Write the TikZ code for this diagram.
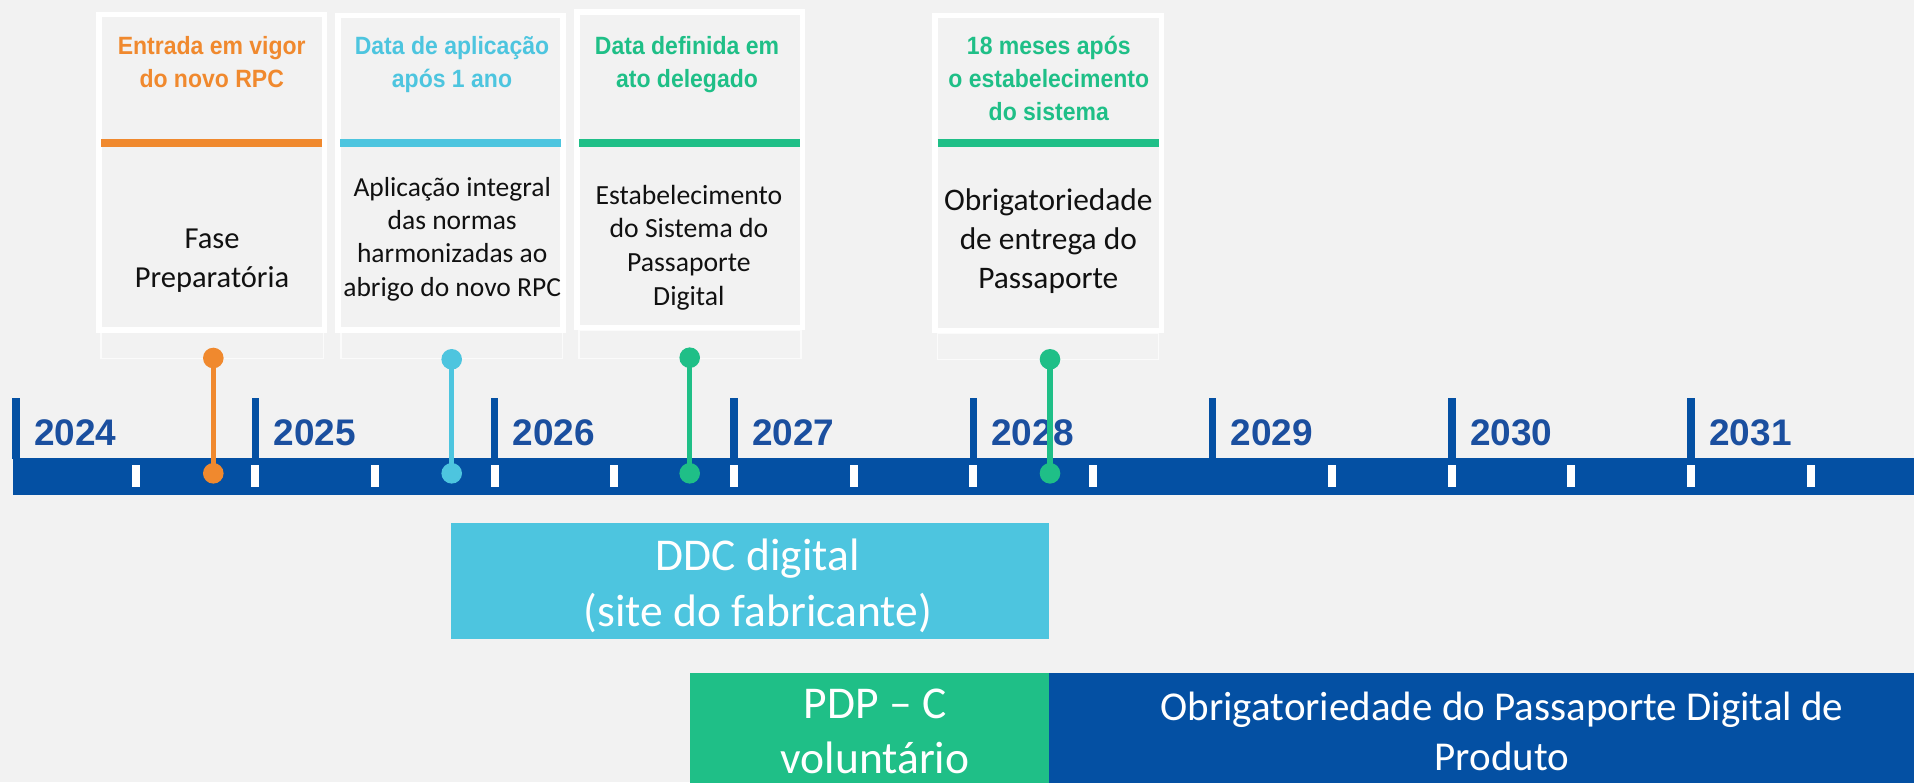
\documentclass[tikz,border=0pt]{standalone}
\usepackage{fontspec}
\newfontfamily\hdrfont[FakeStretch=0.92]{Liberation Sans}
\newfontfamily\yrfont{Liberation Sans}
\newfontfamily\bodyfont{Carlito}
\definecolor{bgc}{HTML}{F2F2F2}
\definecolor{orangec}{HTML}{F0892E}
\definecolor{cyanc}{HTML}{4DC5DF}
\definecolor{greenc}{HTML}{1FBF87}
\definecolor{bluec}{HTML}{0450A3}
\definecolor{yearc}{HTML}{1B4F9F}
\definecolor{textc}{HTML}{111111}
\begin{document}
\begin{tikzpicture}[x=1pt,y=-1pt,
  card/.style={draw=white, line width=5.5pt, fill=bgc, inner sep=0pt, rectangle},
  faint/.style={draw=white, line width=1.5pt, opacity=0.75},
  divider/.style={line width=8pt},
  hdr/.style={inner sep=0pt, anchor=north, align=center, font=\hdrfont\bfseries\fontsize{25}{33.35}\selectfont},
  bodytxt/.style={inner sep=0pt, anchor=north, align=center, text=textc},
  yearlbl/.style={inner sep=0pt, anchor=base west, text=yearc, font=\yrfont\bfseries\fontsize{37}{44}\selectfont},
  dotn/.style={circle, inner sep=0pt, minimum size=20.6pt, draw=none},
  stem/.style={line width=5.5pt},
  bartxt/.style={inner sep=0pt, anchor=north, align=center, text=white}
]
% background
\fill[bgc] (0,0) rectangle (1914,782);
\useasboundingbox (0,0) rectangle (1914,782);

% axis bar
\fill[bluec] (12.5,458.3) rectangle (1914,495);
\foreach \i in {0,...,7}
  \fill[bluec] ({16+239.3*\i-3.7},398.3) rectangle ({16+239.3*\i+3.7},459);
\foreach \h in {0.5,1,1.5,2,2.5,3,3.5,4,4.5,5.5,6,6.5,7,7.5}
  \fill[white] ({16+239.3*\h-4},465) rectangle ({16+239.3*\h+4},486.7);
\foreach \i/\yy in {0/2024,1/2025,2/2026,3/2027,4/2028,5/2029,6/2030,7/2031}
  \node[yearlbl] (yr\yy) at ({16+239.3*\i+18},445) {\yy};

% cards
\node[card, minimum width=225.8pt, minimum height=315.5pt] (c1) at (211.65,172.2) {};
\node[card, minimum width=225.2pt, minimum height=314.5pt] (c2) at (450.35,172.7) {};
\node[card, minimum width=225.5pt, minimum height=315.2pt] (c3) at (689.5,169.65) {};
\node[card, minimum width=226.2pt, minimum height=315.1pt] (c4) at (1048.15,173) {};

% faint boxes under cards
\draw[faint] (101,332.7) rectangle (323.3,358.3);
\draw[faint] (341,332.7) rectangle (562.7,358.3);
\draw[faint] (579,330) rectangle (801,358.3);
\draw[faint] (937.7,333.3) rectangle (1158.3,359.3);

% dividers
\draw[divider, orangec] (101,143.3) -- (322.3,143.3);
\draw[divider, cyanc] (340,143.3) -- (561,143.3);
\draw[divider, greenc] (579,143.3) -- (800,143.3);
\draw[divider, greenc] (937.7,143.3) -- (1159,143.3);

% headers
\node[hdr, text=orangec] (h1) at (211.7,30.7) {\strut Entrada em vigor\\\strut do novo RPC};
\node[hdr, text=cyanc] (h2) at (452,30.7) {\strut Data de aplicação\\\strut após 1 ano};
\node[hdr, text=greenc] (h3) at (687,30.7) {\strut Data definida em\\\strut ato delegado};
\node[hdr, text=greenc] (h4) at (1048.8,30.7) {\strut 18 meses após\\\strut o estabelecimento\\\strut do sistema};

% body texts
\node[bodytxt, font=\bodyfont\fontsize{30.5}{39}\selectfont] (b1) at (212,221) {\strut Fase\\\strut Preparatória};
\node[bodytxt, font=\bodyfont\fontsize{27.5}{33.3}\selectfont] (b2) at (452.2,172.7) {\strut Aplicação integral\\\strut das normas\\\strut harmonizadas ao\\\strut abrigo do novo RPC};
\node[bodytxt, font=\bodyfont\fontsize{27.7}{33.6}\selectfont] (b3) at (688.9,180.5) {\strut Estabelecimento\\\strut do Sistema do\\\strut Passaporte\\\strut Digital};
\node[bodytxt, font=\bodyfont\fontsize{31.4}{38.8}\selectfont] (b4) at (1048.3,183.5) {\strut Obrigatoriedade\\\strut de entrega do\\\strut Passaporte};

% milestones
\node[dotn, fill=orangec] (m1t) at (213.3,358) {};
\node[dotn, fill=orangec] (m1b) at (213.3,473.3) {};
\draw[stem, orangec] (m1t.center) -- (m1b.center);
\node[dotn, fill=cyanc] (m2t) at (451.7,359.3) {};
\node[dotn, fill=cyanc] (m2b) at (451.7,473.3) {};
\draw[stem, cyanc] (m2t.center) -- (m2b.center);
\node[dotn, fill=greenc] (m3t) at (689.7,357.7) {};
\node[dotn, fill=greenc] (m3b) at (689.7,473.3) {};
\draw[stem, greenc] (m3t.center) -- (m3b.center);
\node[dotn, fill=greenc] (m4t) at (1050,359.3) {};
\node[dotn, fill=greenc] (m4b) at (1050,473.3) {};
\draw[stem, greenc] (m4t.center) -- (m4b.center);

% bottom bars
\fill[cyanc] (451,522.7) rectangle (1049.3,639);
\fill[greenc] (690,672.7) rectangle (1049.3,783);
\fill[bluec] (1049.3,672.7) rectangle (1914,783);
\node[bartxt, font=\bodyfont\fontsize{45.5}{56}\selectfont] (ddc) at (757.8,530.8) {\strut DDC digital\\\strut (site do fabricante)};
\node[bartxt, font=\bodyfont\fontsize{45.5}{55}\selectfont] (pdp) at (875,679.5) {\strut PDP – C\\\strut voluntário};
\node[bartxt, font=\bodyfont\fontsize{41}{50}\selectfont] (obr) at (1502,685.7) {\strut Obrigatoriedade do Passaporte Digital de\\\strut Produto};
\end{tikzpicture}
\end{document}
